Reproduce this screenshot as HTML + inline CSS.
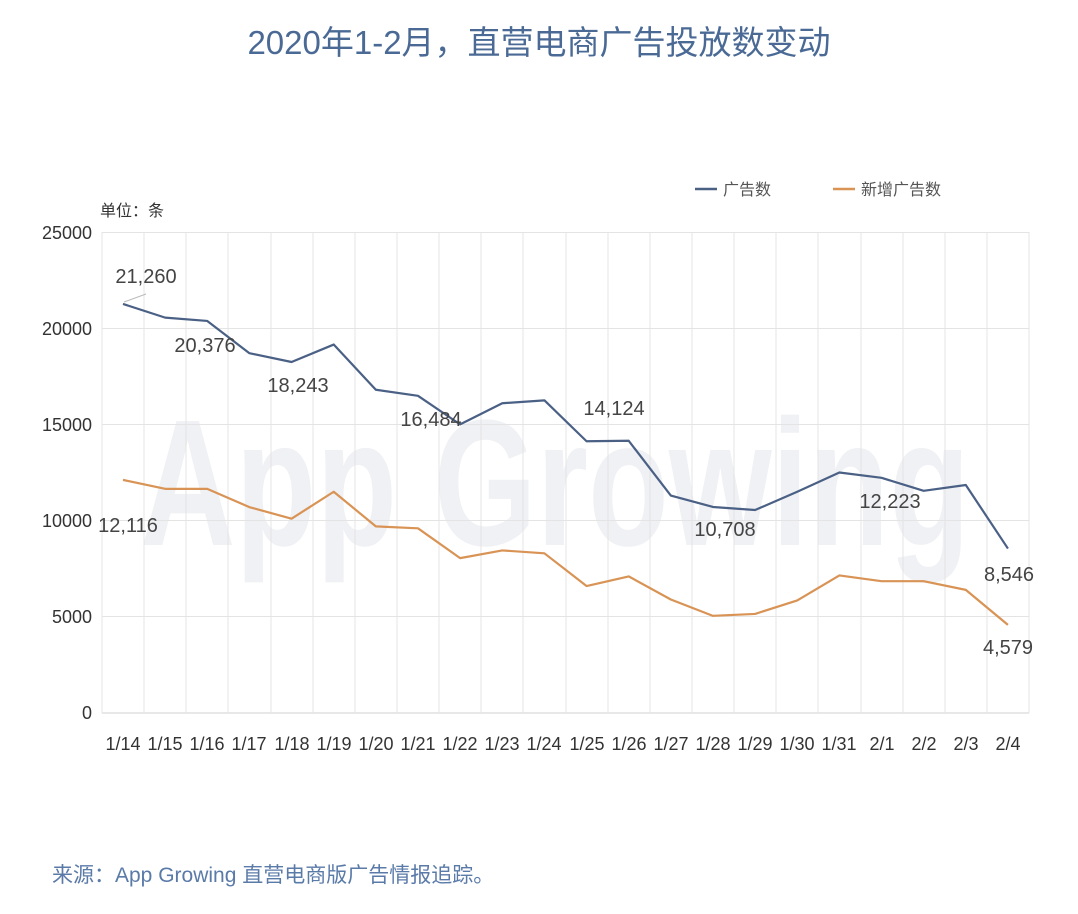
<!DOCTYPE html>
<html><head><meta charset="utf-8"><style>
body{margin:0;background:#fff;}
svg{display:block;font-family:"Liberation Sans","Noto Sans CJK SC",sans-serif;}
</style></head><body>
<svg width="1078" height="914" viewBox="0 0 1078 914">
<rect width="1078" height="914" fill="#fff"/>
<text x="539" y="54" text-anchor="middle" font-size="33" fill="#4a6a95">2020年1-2月，直营电商广告投放数变动</text>
<text x="140" y="545" font-size="180" font-weight="bold" fill="#f0f1f4" textLength="830" lengthAdjust="spacingAndGlyphs">App Growing</text>
<g stroke="#e4e4e4" stroke-width="1">
<line x1="102" y1="232.5" x2="1029" y2="232.5"/><line x1="102" y1="328.5" x2="1029" y2="328.5"/><line x1="102" y1="424.5" x2="1029" y2="424.5"/><line x1="102" y1="520.5" x2="1029" y2="520.5"/><line x1="102" y1="616.5" x2="1029" y2="616.5"/><line x1="102" y1="713" x2="1029" y2="713" stroke="#d0d0d0"/>
<line x1="102" y1="232" x2="102" y2="713"/><line x1="144" y1="232" x2="144" y2="713"/><line x1="186" y1="232" x2="186" y2="713"/><line x1="228" y1="232" x2="228" y2="713"/><line x1="271" y1="232" x2="271" y2="713"/><line x1="313" y1="232" x2="313" y2="713"/><line x1="355" y1="232" x2="355" y2="713"/><line x1="397" y1="232" x2="397" y2="713"/><line x1="439" y1="232" x2="439" y2="713"/><line x1="481" y1="232" x2="481" y2="713"/><line x1="523" y1="232" x2="523" y2="713"/><line x1="566" y1="232" x2="566" y2="713"/><line x1="608" y1="232" x2="608" y2="713"/><line x1="650" y1="232" x2="650" y2="713"/><line x1="692" y1="232" x2="692" y2="713"/><line x1="734" y1="232" x2="734" y2="713"/><line x1="776" y1="232" x2="776" y2="713"/><line x1="818" y1="232" x2="818" y2="713"/><line x1="861" y1="232" x2="861" y2="713"/><line x1="903" y1="232" x2="903" y2="713"/><line x1="945" y1="232" x2="945" y2="713"/><line x1="987" y1="232" x2="987" y2="713"/><line x1="1029" y1="232" x2="1029" y2="713"/>
</g>
<g font-size="18" fill="#333" text-anchor="end">
<text x="92" y="239">25000</text><text x="92" y="335">20000</text><text x="92" y="431">15000</text><text x="92" y="527">10000</text><text x="92" y="623">5000</text><text x="92" y="719">0</text>
</g>
<text x="100" y="216" font-size="16" fill="#333">单位：条</text>
<g transform="translate(123,713) scale(42.14,-0.01924)" fill="none" stroke-width="2.2" stroke-linejoin="round">
<polyline vector-effect="non-scaling-stroke" stroke="#d89355" points="0,12116 1,11650 2,11650 3,10700 4,10100 5,11500 6,9700 7,9600 8,8050 9,8450 10,8300 11,6600 12,7100 13,5900 14,5050 15,5150 16,5850 17,7150 18,6850 19,6850 20,6400 21,4579"/>
<polyline vector-effect="non-scaling-stroke" stroke="#4a6085" points="0,21260 1,20550 2,20376 3,18700 4,18243 5,19150 6,16800 7,16484 8,15000 9,16100 10,16250 11,14124 12,14150 13,11300 14,10708 15,10550 16,11500 17,12500 18,12223 19,11550 20,11850 21,8546"/>
</g>
<line x1="124" y1="302" x2="146" y2="294" stroke="#bbb" stroke-width="1"/>
<g font-size="20" fill="#444" text-anchor="middle">
<text x="146" y="283">21,260</text><text x="205" y="352">20,376</text><text x="298" y="392">18,243</text><text x="431" y="426">16,484</text><text x="614" y="415">14,124</text><text x="725" y="536">10,708</text><text x="890" y="508">12,223</text><text x="1009" y="581">8,546</text><text x="1008" y="654">4,579</text><text x="128" y="532">12,116</text>
</g>
<g font-size="18" fill="#333" text-anchor="middle">
<text x="123" y="750">1/14</text><text x="165" y="750">1/15</text><text x="207" y="750">1/16</text><text x="249" y="750">1/17</text><text x="292" y="750">1/18</text><text x="334" y="750">1/19</text><text x="376" y="750">1/20</text><text x="418" y="750">1/21</text><text x="460" y="750">1/22</text><text x="502" y="750">1/23</text><text x="544" y="750">1/24</text><text x="587" y="750">1/25</text><text x="629" y="750">1/26</text><text x="671" y="750">1/27</text><text x="713" y="750">1/28</text><text x="755" y="750">1/29</text><text x="797" y="750">1/30</text><text x="839" y="750">1/31</text><text x="882" y="750">2/1</text><text x="924" y="750">2/2</text><text x="966" y="750">2/3</text><text x="1008" y="750">2/4</text>
</g>
<line x1="695" y1="189" x2="717" y2="189" stroke="#4a6085" stroke-width="2.5"/>
<text x="723" y="195" font-size="16" fill="#555">广告数</text>
<line x1="833" y1="189" x2="855" y2="189" stroke="#d89355" stroke-width="2.5"/>
<text x="861" y="195" font-size="16" fill="#555">新增广告数</text>
<text x="52" y="882" font-size="21" fill="#5a7aa8">来源：App Growing 直营电商版广告情报追踪。</text>
</svg>
</body></html>
